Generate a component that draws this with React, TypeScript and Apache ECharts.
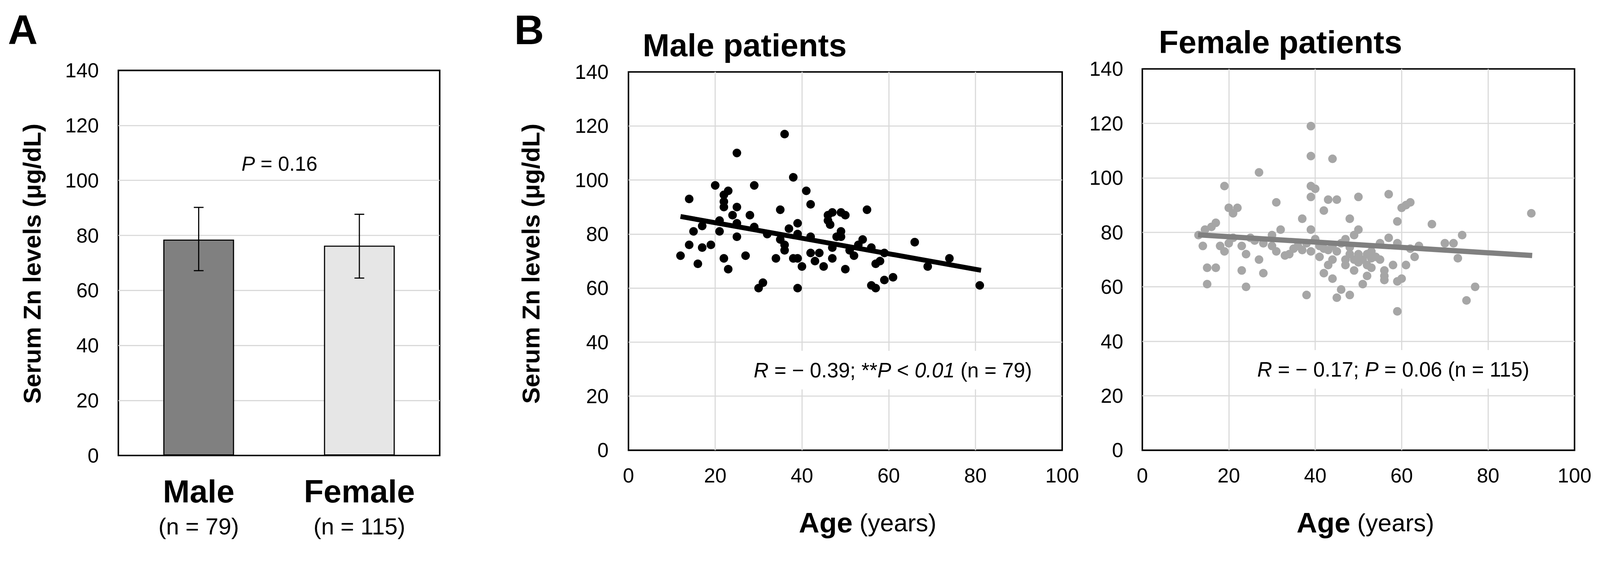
import React, { useEffect, useRef } from "react";
import * as echarts from "echarts";

const FONT = "'Liberation Sans', Arial, Helvetica, sans-serif";
const W = 4272;
const H = 1459;

// ---- Panel A: bar chart ----
const groupCategories = ["Male", "Female"];
const groupCounts = ["(n = 79)", "(n = 115)"];
const groupMeans = [78.5, 76.3];
const groupErrLow = [67.2, 64.5];
const groupErrHigh = [90.2, 87.7];
const barColors = ["#808080", "#e6e6e6"];

// ---- Panel B: male patients (age, serum Zn) ----
const maleAge = [
  36, 25, 38, 20, 29, 23, 41, 14, 22, 22, 22, 25, 42, 35, 24, 28, 21, 17, 25, 39,
  15, 21, 29, 37, 25, 39, 35, 36, 36, 42, 14, 17, 19, 12, 16, 22, 23, 27, 34, 38,
  39, 40, 42, 44, 43, 45, 31, 30, 39, 46, 46, 46.5, 47, 49, 50, 55, 49, 48, 49, 54,
  47, 51, 52, 56, 59, 47, 50, 58, 57, 66, 74, 69, 61, 59, 56, 57, 81, 53, 32,
];
const maleZn = [
  117, 110, 101, 98, 98, 96, 96, 93, 94.5, 92, 90, 90, 91, 89, 87, 87, 85, 83, 84, 84,
  81, 81, 82.6, 82, 79, 80, 78, 76, 74, 79, 76, 75, 76, 72, 69, 71, 67, 72, 71, 71,
  71, 68, 73, 73, 70, 68, 62, 60, 60, 87, 85, 83.5, 88, 88, 87, 89, 81, 79, 79, 78,
  75, 74, 72, 75, 73, 71, 67, 70, 69, 77, 71, 68, 64, 63, 61, 60, 61, 76, 80,
];
const maleFitAge = [12, 81.3];
const maleFitZn = [86.5, 66.6];

// ---- Panel B: female patients (age, serum Zn) ----
const femaleAge = [
  27, 19, 31, 20, 22, 21, 14.5, 16, 17, 13, 32, 30, 14, 18, 19, 20, 23, 24, 26, 27,
  31, 33, 34, 15, 17, 23, 28, 15, 24,
  39, 39, 44, 39, 40, 39, 43, 45, 50, 42, 37, 48, 39, 50, 49, 47, 40, 37, 39, 41,
  43, 45, 48, 47, 47, 52, 51, 53, 52, 42, 44, 52, 51, 46, 45, 48, 38,
  57, 62, 60, 61, 59, 67, 74, 57, 59, 70, 72, 62, 63, 73, 58, 61, 56, 56, 56, 59,
  60, 77, 75, 59, 90,
  36, 38, 41, 42, 44, 46, 48, 49, 50, 50, 53, 54, 53, 55, 44, 35, 30, 28, 25, 21,
  55, 64, 49, 43,
];
const femaleZn = [
  102, 97, 91, 89, 89, 87, 81, 82, 83.5, 79, 81, 79, 75, 75, 73, 76, 75, 72, 77, 70,
  73, 71.5, 72, 67, 67, 66, 65, 61, 60,
  119, 108, 107, 97, 96, 93, 92, 92, 93, 88, 85, 85, 81, 81, 79, 77.5, 77.5, 73.5, 73, 71,
  73.5, 73, 74.5, 70, 68, 72, 70, 70.5, 68, 65, 63, 64, 61, 59, 56, 57, 57,
  94, 91, 89, 90, 84, 83, 79, 78, 76, 76, 76, 74, 71, 70.5, 68, 68, 66, 64, 62.5, 62,
  63, 60, 55, 51, 87,
  75, 76, 75, 74, 75, 76, 72, 70, 72, 69, 73, 71, 67, 70, 70, 74, 75, 76, 78, 78,
  76, 75, 66, 68,
];
const femaleFitAge = [12.9, 90.2];
const femaleFitZn = [79.1, 71.5];

const zip = (a: number[], b: number[]) => a.map((v, i) => [v, b[i]]);

const GRID_LINE = { color: "#d9d9d9", width: 3 };

function valueAxis(gridIndex: number, max: number, interval: number, margin: number) {
  return {
    type: "value",
    gridIndex,
    min: 0,
    max,
    interval,
    axisLine: { show: false },
    axisTick: { show: false },
    axisLabel: { fontSize: 54, color: "#000", margin, fontFamily: FONT },
    splitLine: { show: true, showMinLine: false, showMaxLine: false, lineStyle: GRID_LINE },
  };
}

export default function App() {
  const ref = useRef<HTMLDivElement>(null);
  const vw = typeof window !== "undefined" ? window.innerWidth : W;
  const vh = typeof window !== "undefined" ? window.innerHeight : H;
  const s = Math.min(vw / W, vh / H) || 1;

  useEffect(() => {
    document.body.style.margin = "0";
    if (!ref.current) return;
    const chart = echarts.init(ref.current, null, { renderer: "svg" });

    const gridBox = { show: true, borderColor: "#000", borderWidth: 4, backgroundColor: "transparent" };

    const txt = (x: number, y: number, text: string, size: number, extra: any = {}, el: any = {}) => ({
      type: "text",
      x,
      y,
      z: 100,
      ...el,
      style: {
        text,
        fontSize: size,
        fontFamily: FONT,
        fill: "#000",
        align: "left",
        verticalAlign: "middle",
        ...extra,
      },
    });

    const italicRich = (size: number) => ({
      i: { fontStyle: "italic", fontSize: size, fontFamily: FONT, fill: "#000" },
    });

    const ageRich = {
      b: { fontSize: 76, fontWeight: "bold", fontFamily: FONT, fill: "#000" },
      r: { fontSize: 66, fontFamily: FONT, fill: "#000" },
    };

    const option: any = {
      animation: false,
      backgroundColor: "#fff",
      textStyle: { fontFamily: FONT },
      grid: [
        { left: 316, top: 188, width: 858, height: 1028, ...gridBox },
        { left: 1678, top: 192, width: 1158, height: 1010, ...gridBox },
        { left: 3050, top: 184, width: 1154, height: 1018, ...gridBox },
      ],
      xAxis: [
        {
          type: "category",
          gridIndex: 0,
          data: groupCategories,
          axisLine: { show: false },
          axisTick: { show: false },
          splitLine: { show: false },
          axisLabel: {
            margin: 48,
            interval: 0,
            formatter: (v: string, i: number) => `{b|${v}}\n{n|${groupCounts[i]}}`,
            rich: {
              b: { fontSize: 86, fontWeight: "bold", lineHeight: 94, color: "#000", fontFamily: FONT },
              n: { fontSize: 62, lineHeight: 94, color: "#000", fontFamily: FONT },
            },
          },
        },
        { ...valueAxis(1, 100, 20, 40) },
        { ...valueAxis(2, 100, 20, 40) },
      ],
      yAxis: [
        { ...valueAxis(0, 140, 20, 52) },
        { ...valueAxis(1, 140, 20, 53) },
        { ...valueAxis(2, 140, 20, 51) },
      ],
      series: [
        {
          type: "bar",
          xAxisIndex: 0,
          yAxisIndex: 0,
          barWidth: 189,
          z: 2,
          data: groupMeans.map((v, i) => ({
            value: v,
            itemStyle: { color: barColors[i], borderColor: "#000", borderWidth: 3 },
          })),
        },
        {
          type: "custom",
          xAxisIndex: 0,
          yAxisIndex: 0,
          z: 5,
          data: groupCategories.map((_, i) => [i, groupErrLow[i], groupErrHigh[i]]),
          encode: { x: 0, y: [1, 2] },
          renderItem: (params: any, api: any) => {
            const x = api.value(0);
            const lo = api.coord([x, api.value(1)]);
            const hi = api.coord([x, api.value(2)]);
            const cap = 13;
            const st = { stroke: "#000", lineWidth: 3 };
            return {
              type: "group",
              children: [
                { type: "line", shape: { x1: lo[0], y1: lo[1], x2: hi[0], y2: hi[1] }, style: st },
                { type: "line", shape: { x1: hi[0] - cap, y1: hi[1], x2: hi[0] + cap, y2: hi[1] }, style: st },
                { type: "line", shape: { x1: lo[0] - cap, y1: lo[1], x2: lo[0] + cap, y2: lo[1] }, style: st },
              ],
            };
          },
        },
        {
          type: "scatter",
          xAxisIndex: 1,
          yAxisIndex: 1,
          symbolSize: 23,
          z: 3,
          itemStyle: { color: "#000", opacity: 1 },
          data: zip(maleAge, maleZn),
        },
        {
          type: "line",
          xAxisIndex: 1,
          yAxisIndex: 1,
          z: 4,
          showSymbol: false,
          symbol: "none",
          lineStyle: { color: "#000", width: 13, cap: "butt" },
          data: zip(maleFitAge, maleFitZn),
        },
        {
          type: "scatter",
          xAxisIndex: 2,
          yAxisIndex: 2,
          symbolSize: 23,
          z: 3,
          itemStyle: { color: "#a6a6a6", opacity: 1 },
          data: zip(femaleAge, femaleZn),
        },
        {
          type: "line",
          xAxisIndex: 2,
          yAxisIndex: 2,
          z: 4,
          showSymbol: false,
          symbol: "none",
          lineStyle: { color: "#808080", width: 14, cap: "butt" },
          data: zip(femaleFitAge, femaleFitZn),
        },
      ],
      graphic: [
        txt(21, 80, "A", 110, { fontWeight: "bold" }),
        txt(1373, 80, "B", 110, { fontWeight: "bold" }),
        txt(1716, 120, "Male patients", 86, { fontWeight: "bold" }),
        txt(3094, 112, "Female patients", 86, { fontWeight: "bold" }),
        txt(746, 437, "{i|P} = 0.16", 54, { align: "center", rich: italicRich(54) }),
        txt(86, 704, "Serum Zn levels (μg/dL)", 66, { fontWeight: "bold", align: "center" }, { rotation: Math.PI / 2 }),
        txt(1417, 704, "Serum Zn levels (μg/dL)", 66, { fontWeight: "bold", align: "center" }, { rotation: Math.PI / 2 }),
        txt(2133, 1395, "{b|Age} {r|(years)}", 66, { rich: ageRich }),
        txt(3462, 1395, "{b|Age} {r|(years)}", 66, { rich: ageRich }),
        txt(2384, 988, "{i|R} = − 0.39; **{i|P} < {i|0.01} (n = 79)", 55, {
          align: "center",
          rich: italicRich(55),
          backgroundColor: "#fff",
          padding: [24, 14],
        }),
        txt(3720, 986, "{i|R} = − 0.17; {i|P} = 0.06 (n = 115)", 55, {
          align: "center",
          rich: italicRich(55),
          backgroundColor: "#fff",
          padding: [24, 14],
        }),
      ],
    };

    chart.setOption(option);
    return () => chart.dispose();
  }, []);

  return (
    <div style={{ width: "100vw", height: "100vh", overflow: "hidden", position: "relative" }}>
      <div
        ref={ref}
        style={{ width: W, height: H, transformOrigin: "0 0", transform: `scale(${s})` }}
      />
    </div>
  );
}
